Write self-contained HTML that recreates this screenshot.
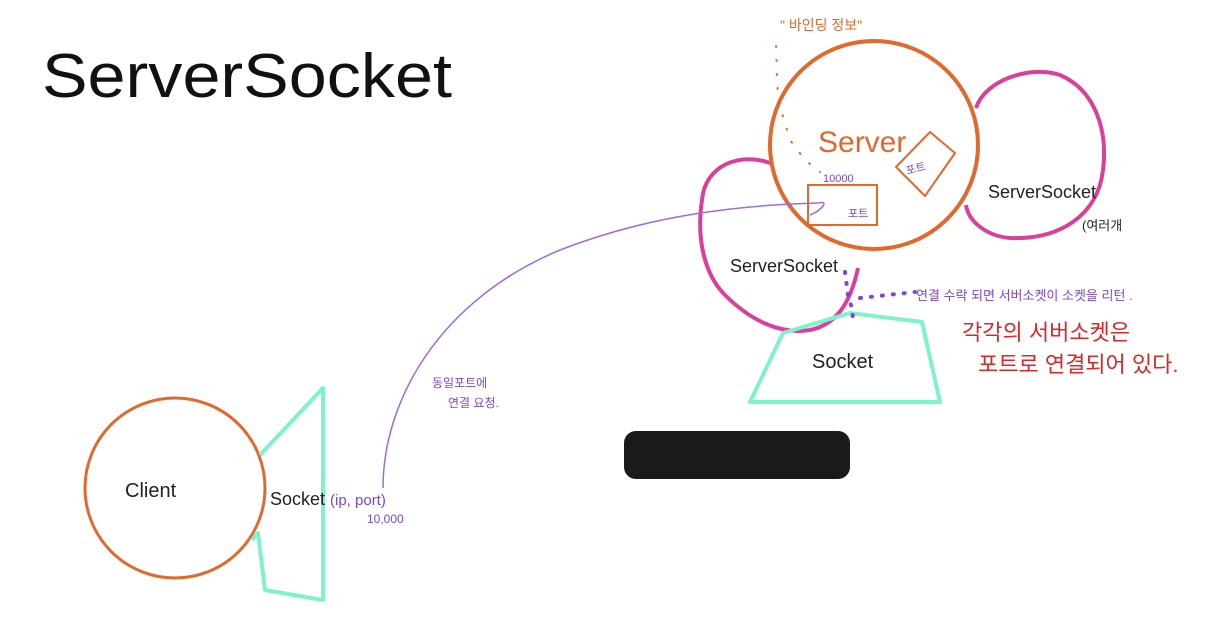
<!DOCTYPE html>
<html><head><meta charset="utf-8"><style>
html,body{margin:0;padding:0;background:#fff;width:1214px;height:623px;overflow:hidden}
svg{display:block}
text{font-family:"Liberation Sans","Noto Sans CJK KR",sans-serif}
</style></head><body>
<svg width="1214" height="623" viewBox="0 0 1214 623" xmlns="http://www.w3.org/2000/svg">
<text x="42" y="97" font-size="62" fill="#111" textLength="410" lengthAdjust="spacingAndGlyphs">ServerSocket</text>
<!-- left serversocket blob -->
<path d="M770 163 C740 152 705 165 702 200 C696 240 705 275 725 295 C750 320 780 335 810 330 C835 325 850 305 858 268" fill="none" stroke="#d9409a" stroke-width="4"/>
<!-- right serversocket blob -->
<path d="M976 108 C985 80 1030 65 1060 75 C1095 90 1108 130 1103 170 C1098 215 1060 240 1010 238 C985 236 968 220 966 205" fill="none" stroke="#d9409a" stroke-width="4"/>
<!-- server circle -->
<circle cx="874" cy="145" r="104" fill="none" stroke="#e0692e" stroke-width="4"/>
<text x="818" y="152" font-size="30" fill="#e0692e">Server</text>
<rect x="808" y="185" width="69" height="40" fill="none" stroke="#e0692e" stroke-width="2"/>
<text x="848" y="217" font-size="11" fill="#7b46d6">포트</text>
<text x="823" y="182" font-size="11" fill="#7b46d6">10000</text>
<polygon points="930,132 955,153 925,196 896,167" fill="none" stroke="#e0692e" stroke-width="2"/>
<text x="906" y="173" font-size="11" fill="#7b46d6" transform="rotate(-15 913 170)">포트</text>
<text x="780" y="30" font-size="14" fill="#e0692e">" 바인딩  정보"</text>
<path d="M776 46 L778 100 L790 140 L805 160 L820 172" fill="none" stroke="#e0692e" stroke-width="2" stroke-dasharray="1 13" stroke-linecap="round"/>
<text x="988" y="198" font-size="18" fill="#222">ServerSocket</text>
<text x="1082" y="230" font-size="13" fill="#222">(여러개</text>
<text x="730" y="272" font-size="18" fill="#222">ServerSocket</text>
<!-- socket trapezoid -->
<polygon points="850,313 922,322 940,402 750,402 783,333" fill="none" stroke="#7ef2cc" stroke-width="4" stroke-linejoin="round"/>
<text x="812" y="368" font-size="20" fill="#222">Socket</text>
<path d="M845 272 L848 295 L853 312 L852 322 M860 298 L915 292" fill="none" stroke="#7b46d6" stroke-width="4" stroke-dasharray="1 10" stroke-linecap="round"/>
<text x="916" y="300" font-size="13" fill="#7b46d6">연결 수락 되면  서버소켓이 소켓을 리턴 .</text>
<text x="962" y="340" font-size="22" fill="#d8282a">각각의 서버소켓은</text>
<text x="978" y="372" font-size="22" fill="#d8282a">포트로  연결되어  있다.</text>
<!-- black blob -->
<rect x="624" y="431" width="226" height="48" rx="12" fill="#1a1a1a"/>
<!-- client -->
<circle cx="175" cy="488" r="90" fill="none" stroke="#e0692e" stroke-width="3"/>
<text x="125" y="497" font-size="20" fill="#222">Client</text>
<path d="M260 455 L323 388 L323 600 L265 590 L258 533 L252 540" fill="none" stroke="#7ef2cc" stroke-width="4" stroke-linejoin="round"/>
<text x="270" y="505" font-size="18" fill="#222">Socket</text>
<text x="330" y="505" font-size="15" fill="#7b46d6">(ip, port)</text>
<text x="367" y="523" font-size="12" fill="#7b46d6">10,000</text>
<!-- connector -->
<path d="M383 488 C383 400 440 300 560 250 C650 215 740 205 818 203 C830 200 822 210 810 215" fill="none" stroke="#9b6ae6" stroke-width="1.5"/>
<text x="432" y="387" font-size="12" fill="#7b46d6">동일포트에</text>
<text x="448" y="407" font-size="12" fill="#7b46d6">연결 요청.</text>
</svg>
</body></html>
